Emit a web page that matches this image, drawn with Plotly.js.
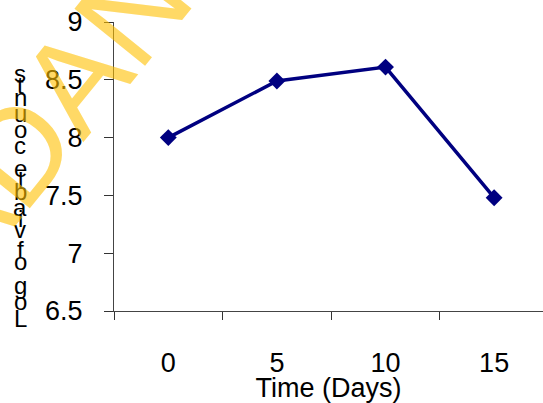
<!DOCTYPE html>
<html>
<head>
<meta charset="utf-8">
<script src="https://cdn.plot.ly/plotly-3.0.1.min.js"></script>
<style>html,body{margin:0;padding:0;background:#fff;}#chart{width:543px;height:403px;}</style>
</head>
<body>
<div id="chart"></div>
<script>
// ---- data ----
const days = ['0', '5', '10', '15'];
const logCounts = [8.00, 8.49, 8.61, 7.48];
const yTickVals = [6.5, 7, 7.5, 8, 8.5, 9];
const yTickText = ['6.5', '7', '7.5', '8', '8.5', '9'];
const xTitle = 'Time (Days)';
const yTitle = 'Log of viable counts';
const watermark = 'PADANG';

// ---- layout geometry ----
const W = 543, H = 403;
const M = {l: 114, r: 0, t: 22, b: 92};
const PW = W - M.l - M.r, PH = H - M.t - M.b;
const FONT = 'Liberation Sans, Arial, sans-serif';

// stacked y-title letters (bottom-up, advance by glyph width, as in the original)
const cw = {' ': .278, 'L': .556, 'o': .556, 'g': .556, 'f': .278, 'v': .5, 'i': .222, 'a': .556,
  'b': .556, 'l': .222, 'e': .556, 'c': .5, 'u': .556, 'n': .556, 't': .278, 's': .5};
const annotations = [];
let acc = 0;
const K = 29.2, bottomPx = 318;
for (const ch of yTitle) {
  const w = cw[ch] !== undefined ? cw[ch] : .556;
  const centre = acc + w / 2;
  acc += w;
  if (ch === ' ') continue;
  const ypx = bottomPx - (centre - 0.278) * K;
  annotations.push({
    text: ch, xref: 'paper', yref: 'paper',
    x: (20 - M.l) / PW, y: (H - M.b - ypx) / PH,
    xanchor: 'center', yanchor: 'middle', showarrow: false,
    font: {family: FONT, size: 24, color: '#000'}
  });
}
// watermark
annotations.push({
  text: watermark, xref: 'paper', yref: 'paper',
  x: (55 - M.l) / PW, y: (H - M.b - 104) / PH,
  xanchor: 'center', yanchor: 'middle', showarrow: false, textangle: -51,
  font: {family: FONT, size: 132, color: 'rgba(255,192,0,0.6)'}
});

const trace = {
  x: days, y: logCounts, type: 'scatter', mode: 'lines+markers',
  line: {color: '#000080', width: 3.5},
  marker: {symbol: 'diamond', size: 13, color: '#000080'},
  cliponaxis: false, hoverinfo: 'skip'
};

const layout = {
  width: W, height: H, margin: M,
  paper_bgcolor: '#fff', plot_bgcolor: '#fff',
  showlegend: false,
  font: {family: FONT, color: '#000'},
  xaxis: {
    type: 'category', range: [-0.5, 3.45], tickson: 'boundaries',
    ticks: 'outside', ticklen: 8, tickcolor: '#333', tickwidth: 1,
    showline: true, linecolor: '#444', linewidth: 1,
    showgrid: false, zeroline: false,
    tickfont: {family: FONT, size: 27, color: '#000'},
    ticklabelstandoff: 28,
    title: {text: xTitle, font: {family: FONT, size: 27, color: '#000'}, standoff: 0},
    fixedrange: true
  },
  yaxis: {
    range: [6.5, 9], tickvals: yTickVals, ticktext: yTickText,
    ticks: 'outside', ticklen: 9, tickcolor: '#333', tickwidth: 1,
    showline: true, linecolor: '#444', linewidth: 1,
    showgrid: false, zeroline: false,
    tickfont: {family: FONT, size: 27, color: '#000'},
    ticklabelstandoff: 16,
    fixedrange: true
  },
  annotations: annotations
};

Plotly.newPlot('chart', [trace], layout, {staticPlot: true, displayModeBar: false});
</script>
</body>
</html>
